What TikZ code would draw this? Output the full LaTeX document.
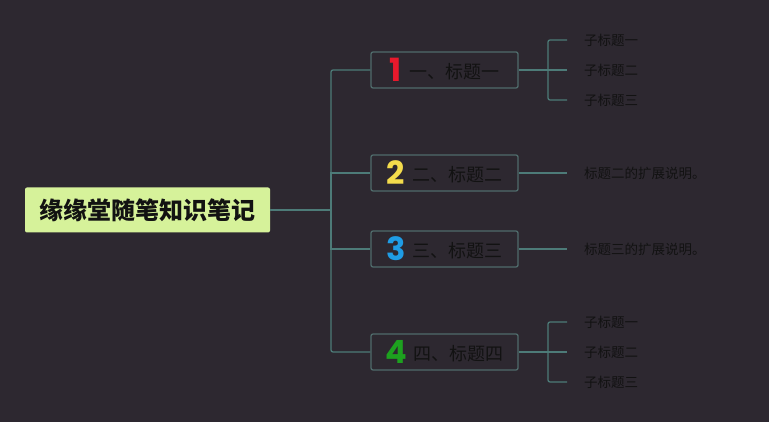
\documentclass[tikz,border=0pt]{standalone}
\usepackage{fontspec}
\usepackage{tikz}
\usetikzlibrary{positioning}

\newfontfamily\cjk{Noto Sans CJK SC}
\newfontfamily\numfont{Poppins}

\definecolor{bgcol}{HTML}{2D2830}
\definecolor{rootcol}{HTML}{D6F29A}
\definecolor{boxcol}{HTML}{4F6B6B}
\definecolor{linecol}{HTML}{4D7B78}
\definecolor{txtcol}{HTML}{121212}
\definecolor{numred}{HTML}{E8192C}
\definecolor{numyellow}{HTML}{F4DC4C}
\definecolor{numblue}{HTML}{1F9CE4}
\definecolor{numgreen}{HTML}{1DA11F}

\newcommand{\bignum}[2]{\raisebox{-3pt}{\numfont\bfseries\fontsize{32}{32}\selectfont\color{#1}#2}\hspace{7pt}}

\begin{document}
\begin{tikzpicture}[x=1pt,y=-1pt]
            \tikzset{root/.style = {fill=rootcol, rounded corners=2pt, minimum width=245pt, minimum height=45pt, inner sep=0pt, text=txtcol, font=\cjk\bfseries\fontsize{24}{24}\selectfont}}
            \tikzset{topic/.style = {draw=boxcol, line width=1.3pt, rounded corners=2pt, minimum width=147pt, minimum height=36pt, inner sep=0pt, text=txtcol, font=\cjk\fontsize{18}{18}\selectfont}}
            \tikzset{sub/.style = {anchor=west, inner xsep=17pt, inner ysep=0pt, text=txtcol, font=\cjk\fontsize{13.5}{13.5}\selectfont}}
            \tikzset{edge/.style = {draw=linecol, line width=1.3pt}}

            \fill[bgcol] (0,0) rectangle (769,422);

            \node[root] (root) at (147.5,210) {缘缘堂随笔知识笔记};

            \node[topic] (t1) at (444.5,70) {\bignum{numred}{1}一、标题一};
            \node[topic] (t2) at (444.5,173) {\bignum{numyellow}{2}二、标题二};
            \node[topic] (t3) at (444.5,249) {\bignum{numblue}{3}三、标题三};
            \node[topic] (t4) at (444.5,352) {\bignum{numgreen}{4}四、标题四};


            \node[sub] (s11) at (567,40) {子标题一};
            \node[sub] (s12) at (567,70) {子标题二};
            \node[sub] (s13) at (567,100) {子标题三};

            \node[sub] (d2) at (567,173) {标题二的扩展说明。};
            \node[sub] (d3) at (567,249) {标题三的扩展说明。};

            \node[sub] (s41) at (567,322) {子标题一};
            \node[sub] (s42) at (567,352) {子标题二};
            \node[sub] (s43) at (567,382) {子标题三};


            \coordinate (trunk) at (331,210);
            \coordinate (br1) at (548,70);
            \coordinate (br4) at (548,352);

            \draw[edge] (root) -- (trunk);
            \draw[edge, rounded corners=2pt] (t1.west) -| (trunk) |- (t4.west);
            \draw[edge] (trunk) |- (t2.west);
            \draw[edge] (trunk) |- (t3.west);

            \draw[edge] (t1) -- (br1) -- (s12.west);
            \draw[edge, rounded corners=2pt] (s11.west) -| (br1) |- (s13.west);
            \draw[edge] (t2) -- (d2.west);
            \draw[edge] (t3) -- (d3.west);
            \draw[edge] (t4) -- (br4) -- (s42.west);
            \draw[edge, rounded corners=2pt] (s41.west) -| (br4) |- (s43.west);
            \end{tikzpicture}
\end{document}
